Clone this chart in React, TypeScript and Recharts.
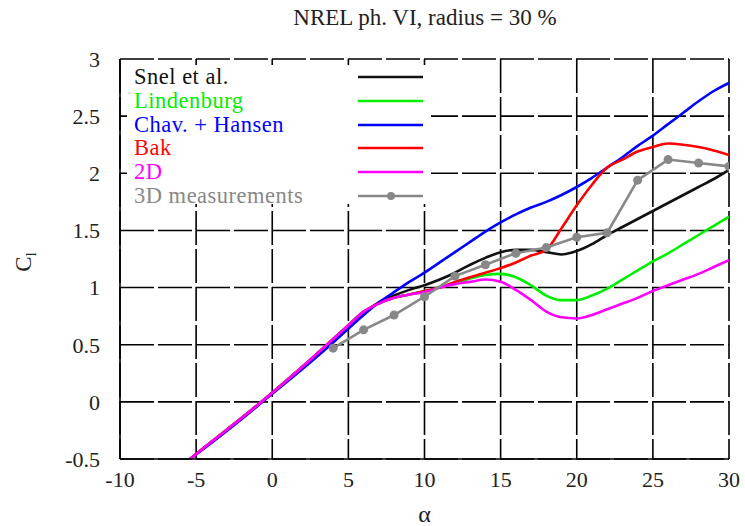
import { LineChart, Line, XAxis, YAxis, CartesianGrid, Label } from "recharts"

// angle of attack (deg) shared by the model curves
const alpha = [-5.4, -4, -2, 0, 2, 4, 5, 6, 7, 8, 9, 10, 11, 12, 13, 14, 15, 16, 17, 18, 19, 20, 21, 22, 23, 24, 25, 26, 27, 28, 29, 30]

const snel = [-0.5, -0.35, -0.14, 0.08, 0.31, 0.54, 0.66, 0.78, 0.87, 0.93, 0.98, 1.02, 1.07, 1.13, 1.2, 1.26, 1.31, 1.33, 1.33, 1.31, 1.29, 1.32, 1.38, 1.46, 1.53, 1.6, 1.67, 1.74, 1.81, 1.88, 1.95, 2.03]
const lindenburg = [-0.5, -0.35, -0.14, 0.08, 0.31, 0.55, 0.67, 0.79, 0.86, 0.91, 0.94, 0.97, 1.0, 1.04, 1.08, 1.11, 1.12, 1.09, 1.02, 0.93, 0.89, 0.89, 0.93, 0.99, 1.07, 1.15, 1.23, 1.3, 1.38, 1.46, 1.54, 1.62]
const chavHansen = [-0.5, -0.36, -0.15, 0.07, 0.29, 0.52, 0.64, 0.76, 0.87, 0.96, 1.05, 1.13, 1.22, 1.31, 1.4, 1.49, 1.57, 1.64, 1.7, 1.75, 1.81, 1.88, 1.96, 2.05, 2.14, 2.24, 2.33, 2.43, 2.53, 2.63, 2.72, 2.79]
const bak = [-0.5, -0.35, -0.14, 0.08, 0.31, 0.55, 0.67, 0.79, 0.86, 0.91, 0.94, 0.97, 1.0, 1.05, 1.09, 1.13, 1.17, 1.22, 1.28, 1.33, 1.52, 1.72, 1.9, 2.05, 2.12, 2.19, 2.23, 2.26, 2.25, 2.23, 2.2, 2.16]
const twoD = [-0.5, -0.35, -0.14, 0.08, 0.31, 0.55, 0.67, 0.79, 0.86, 0.91, 0.94, 0.96, 1.0, 1.03, 1.05, 1.07, 1.05, 0.98, 0.89, 0.79, 0.74, 0.73, 0.76, 0.81, 0.86, 0.91, 0.97, 1.02, 1.07, 1.12, 1.18, 1.24]

// measured points, every 2 deg from 4 to 30
const measAlpha = [4, 6, 8, 10, 12, 14, 16, 18, 20, 22, 24, 26, 28, 30]
const measured = [0.47, 0.63, 0.76, 0.92, 1.1, 1.2, 1.3, 1.35, 1.44, 1.48, 1.94, 2.12, 2.09, 2.06]

const xTicks = [-10, -5, 0, 5, 10, 15, 20, 25, 30]
const yTicks = [-0.5, 0, 0.5, 1, 1.5, 2, 2.5, 3]

// key order, labels and colours
const seriesKeys = ["snel", "lind", "chav", "bak", "twoD", "meas"]
const seriesNames = ["Snel et al.", "Lindenburg", "Chav. + Hansen", "Bak", "2D", "3D measurements"]
const seriesColors = ["#111111", "#00ee00", "#0000ff", "#ff0000", "#ff00ff", "#888888"]

const allAlpha = Array.from(new Set([...alpha, ...measAlpha])).sort((a, b) => a - b)
const data = allAlpha.map((a) => {
  const i = alpha.indexOf(a)
  const j = measAlpha.indexOf(a)
  return {
    a,
    snel: i >= 0 ? snel[i] : null,
    lind: i >= 0 ? lindenburg[i] : null,
    chav: i >= 0 ? chavHansen[i] : null,
    bak: i >= 0 ? bak[i] : null,
    twoD: i >= 0 ? twoD[i] : null,
    meas: j >= 0 ? measured[j] : null,
  }
})

const font = "Liberation Serif, 'Times New Roman', Times, serif"
const gridDash = "34 4"

// opaque key box sitting in the upper-left corner of the plot
const KeyBox = () => (
  <div style={{ position: "absolute", left: 127, top: 65, background: "white", width: 304, height: 139 }}>
    {seriesNames.map((name, k) => (
      <div key={name} style={{ position: "absolute", left: 0, top: k * 23.8, height: 24, width: 304 }}>
        <span
          style={{
            position: "absolute",
            left: 7,
            top: 0,
            fontFamily: font,
            fontSize: 22.5,
            letterSpacing: 0.5,
            color: seriesColors[k],
            lineHeight: "24px",
            whiteSpace: "nowrap",
          }}
        >
          {name}
        </span>
        <svg width={70} height={24} style={{ position: "absolute", left: 229, top: 0 }}>
          <line x1={2} x2={67} y1={12} y2={12} stroke={seriesColors[k]} strokeWidth={2.6} />
          {seriesKeys[k] === "meas" && <circle cx={35} cy={12} r={4} fill={seriesColors[k]} />}
        </svg>
      </div>
    ))}
  </div>
)

export default function App() {
  return (
    <div style={{ position: "absolute", left: 0, top: 0, width: 745, height: 526, background: "white" }}>
      <div style={{ position: "absolute", left: 0, top: 5, width: 850, textAlign: "center", fontFamily: font, fontSize: 23, color: "#222" }}>
        NREL ph. VI, radius = 30 %
      </div>
      <LineChart width={745} height={526} data={data} margin={{ top: 59, right: 16, left: 0, bottom: 0 }}>
        <CartesianGrid stroke="#000" strokeWidth={1.6} strokeDasharray={gridDash} horizontalValues={yTicks} verticalValues={xTicks} />
        <XAxis
          dataKey="a"
          type="number"
          domain={[-10, 30]}
          ticks={xTicks}
          allowDataOverflow
          height={67}
          stroke="#000"
          strokeWidth={1.6}
          tickLine={false}
          tickMargin={6}
          tick={{ fontFamily: font, fontSize: 22, fill: "#222" }}
        >
          <Label value="α" position="insideBottom" offset={4} style={{ fontFamily: font, fontSize: 24, fill: "#222" }} />
        </XAxis>
        <XAxis xAxisId="top" orientation="top" type="number" domain={[-10, 30]} height={0} stroke="#000" strokeWidth={1.6} tick={false} tickLine={false} />
        <YAxis
          type="number"
          domain={[-0.5, 3]}
          ticks={yTicks}
          allowDataOverflow
          width={120}
          stroke="#000"
          strokeWidth={1.6}
          tickLine={false}
          tickMargin={14}
          tick={{ fontFamily: font, fontSize: 22, fill: "#222" }}
        />
        <YAxis yAxisId="right" orientation="right" domain={[-0.5, 3]} width={0} stroke="#000" strokeWidth={1.6} tick={false} tickLine={false} />
        {seriesKeys.map((key, k) => (
          <Line
            key={key}
            dataKey={key}
            name={seriesNames[k]}
            stroke={seriesColors[k]}
            strokeWidth={2.6}
            type={key === "meas" ? "linear" : "monotone"}
            connectNulls
            dot={key === "meas" ? { r: 4.5, fill: seriesColors[k], stroke: seriesColors[k], strokeWidth: 0 } : false}
            isAnimationActive={false}
          />
        ))}
      </LineChart>
      <KeyBox />
      <svg style={{ position: "absolute", left: 0, top: 0 }} width={60} height={526}>
        <text transform="translate(31 262) rotate(-90)" textAnchor="middle" fontFamily={font} fontSize={23} fill="#222">
          C<tspan fontSize={15} dy={5}>l</tspan>
        </text>
      </svg>
    </div>
  )
}
